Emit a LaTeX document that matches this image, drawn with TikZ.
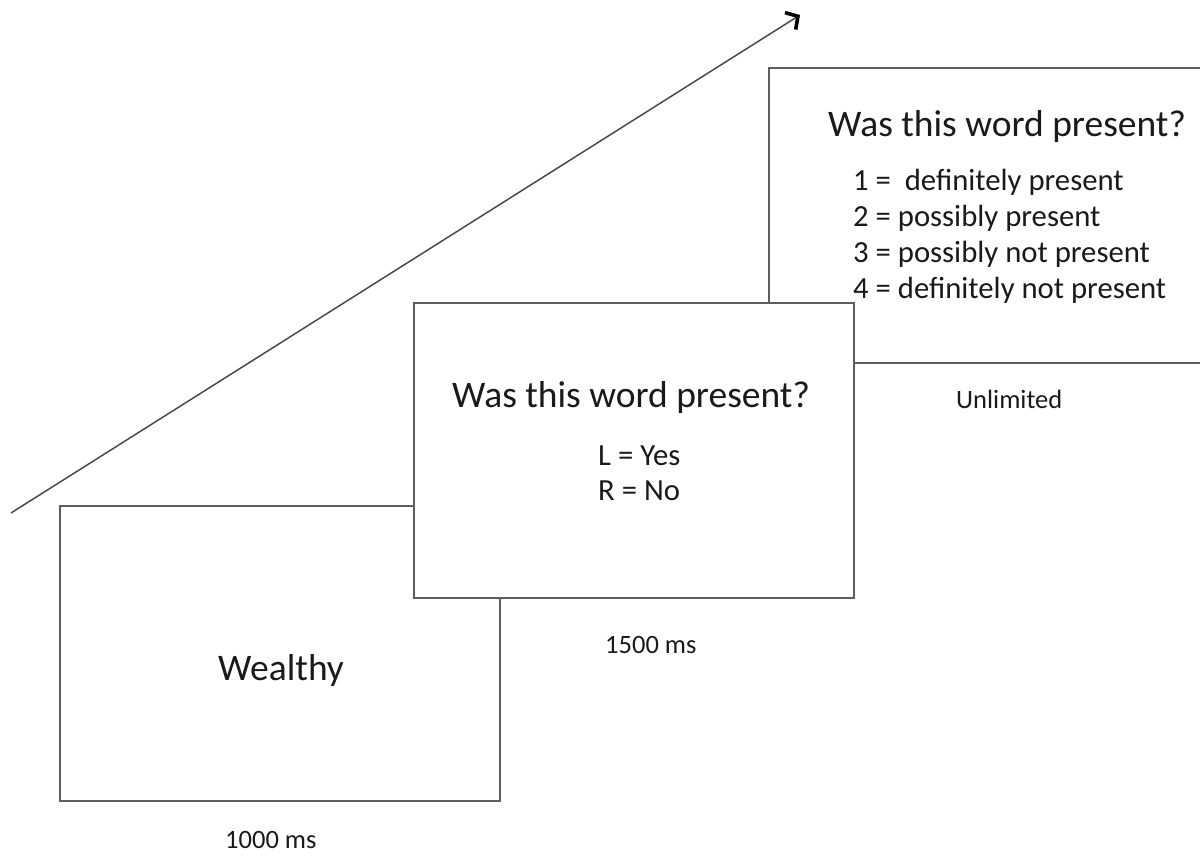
\documentclass[tikz,border=0pt]{standalone}
\usepackage{fontspec}
\setmainfont{Carlito}
\usetikzlibrary{arrows.meta}
\definecolor{frame}{HTML}{5E5E5E}
\definecolor{ink}{HTML}{1A1A1A}
\tikzset{
  screen/.style={draw=frame, line width=1.6pt, fill=white, rectangle, inner sep=0pt,
                 minimum width=440pt, minimum height=295pt},
  bigtxt/.style={text=ink, inner sep=0pt, anchor=base west, font=\fontsize{37.5}{45}\selectfont},
  midtxt/.style={text=ink, inner sep=0pt, anchor=base west, font=\fontsize{30.7}{37}\selectfont},
  smalltxt/.style={text=ink, inner sep=0pt, anchor=base west, font=\fontsize{26.5}{32}\selectfont},
  timeline/.style={draw=frame!80!black, line width=1.5pt,
                   -{Straight Barb[length=9pt,width=20pt,line width=3.6pt,color=black]}}
}
\begin{document}
\begin{tikzpicture}[x=1pt,y=-1pt]
\useasboundingbox (0,0) rectangle (1200,856);
\clip (0,0) rectangle (1200,856);
\fill[white] (0,0) rectangle (1200,856);
% timeline arrow
\coordinate (tstart) at (11,513);
\coordinate (tend) at (800,15);
\draw[timeline] (tstart) -- (tend);
% screens (back to front)
\node[screen] (s1) at (280,653.5) {};
\node[screen] (s3) at (989,215.5) {};
\node[screen] (s2) at (634,450.5) {};
% screen 1
\node[bigtxt] (w) at (218,680) {Wealthy};
% screen 2
\node[bigtxt] (q2) at (452,407) {Was this word present?};
\node[midtxt] (l) at (598,465) {L = Yes};
\node[midtxt] (r) at (598,500) {R = No};
% screen 3
\node[bigtxt] (q3) at (828,137) {Was this word present?};
\node[midtxt] (o1) at (853,190) {1 =\ \ definitely present};
\node[midtxt] (o2) at (853,226) {2 = possibly present};
\node[midtxt] (o3) at (853,262) {3 = possibly not present};
\node[midtxt] (o4) at (853,298) {4 = definitely not present};
% durations
\node[smalltxt] (d1) at (225,848) {1000 ms};
\node[smalltxt] (d2) at (605,653) {1500 ms};
\node[smalltxt] (d3) at (956,408) {Unlimited};
\end{tikzpicture}
\end{document}
